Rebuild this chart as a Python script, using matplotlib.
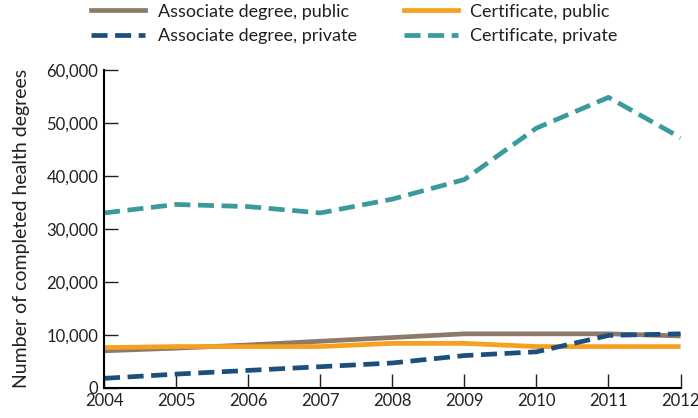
import matplotlib
matplotlib.use('Agg')
import matplotlib.pyplot as plt
from matplotlib.ticker import FuncFormatter

plt.rcParams['font.family'] = ['Lato', 'DejaVu Sans']

years = [2004, 2005, 2006, 2007, 2008, 2009, 2010, 2011, 2012]
assoc_public = [7000, 7500, 8100, 8800, 9500, 10200, 10200, 10200, 9800]
cert_public = [7600, 7800, 7800, 7800, 8400, 8400, 7800, 7800, 7800]
assoc_private = [1800, 2600, 3300, 4000, 4700, 6100, 6800, 9900, 10200]
cert_private = [33000, 34600, 34200, 33000, 35600, 39300, 49000, 54800, 47200]

c_ap = '#8c7b6b'
c_cp = '#f5a01f'
c_apr = '#1d4f7c'
c_cpr = '#3a9a9c'
lw = 3.4
dash = (3.4, 1.6)

fig = plt.figure(figsize=(6.98, 4.18), dpi=100)
ax = fig.add_axes([0.149, 0.072, 0.826, 0.761])

ax.plot(years, assoc_public, color=c_ap, lw=lw, solid_capstyle='butt')
ax.plot(years, cert_public, color=c_cp, lw=lw, solid_capstyle='butt')
ax.plot(years, assoc_private, color=c_apr, lw=lw, dashes=dash)
ax.plot(years, cert_private, color=c_cpr, lw=lw, dashes=dash)

ax.set_xlim(2004, 2012)
ax.set_ylim(0, 60000)
ax.set_xticks(years)
ax.set_yticks(range(0, 60001, 10000))
ax.yaxis.set_major_formatter(FuncFormatter(lambda v, p: f'{int(v):,}'))
for s in ['top', 'right']:
    ax.spines[s].set_visible(False)
ax.spines['left'].set_linewidth(1.5)
ax.spines['bottom'].set_linewidth(1.5)
ax.tick_params(direction='in', length=10, width=1, labelsize=12, colors='#231f20')
ax.tick_params(axis='x', pad=4)
ax.tick_params(axis='y', pad=4)
ax.set_ylabel('Number of completed health degrees', fontsize=14, color='#231f20', labelpad=12)

handles = [
    plt.Line2D([0], [0], color=c_ap, lw=lw),
    plt.Line2D([0], [0], color=c_apr, lw=lw, dashes=dash),
    plt.Line2D([0], [0], color=c_cp, lw=lw),
    plt.Line2D([0], [0], color=c_cpr, lw=lw, dashes=dash),
]
labels = ['Associate degree, public', 'Associate degree, private',
          'Certificate, public', 'Certificate, private']
fig.legend(handles, labels, loc='upper left', bbox_to_anchor=(0.107, 1.03), ncol=2,
           frameon=False, fontsize=13, handlelength=3.0, handletextpad=0.7,
           columnspacing=2.6, labelspacing=0.45, labelcolor='#231f20')

plt.savefig('out.png', dpi=100)
